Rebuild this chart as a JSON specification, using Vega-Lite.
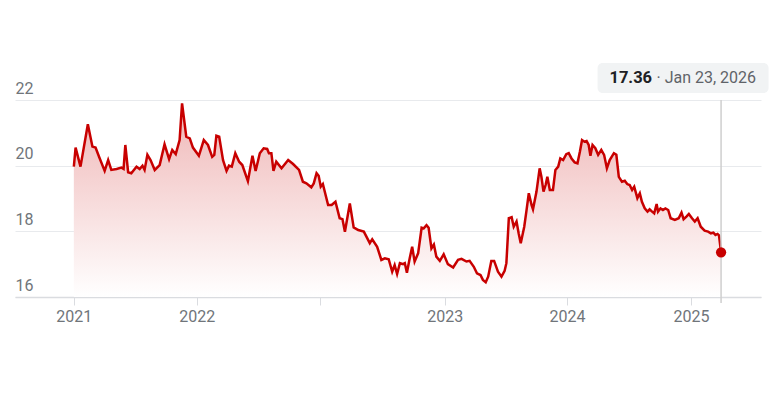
{
  "$schema": "https://vega.github.io/schema/vega-lite/v6.json",
  "width": 746,
  "height": 197,
  "autosize": "none",
  "padding": {"left": 15, "top": 100, "right": 15, "bottom": 121},
  "background": "white",
  "config": {
    "font": "Roboto",
    "view": {"stroke": null},
    "axis": {"labelFont": "Roboto", "labelFontSize": 16, "labelColor": "#70757a", "title": null}
  },
  "datasets": {
    "prices": [
      {"date": "2021-01-01", "price": 19.97}, {"date": "2021-01-06", "price": 20.55}, {"date": "2021-01-20", "price": 19.97},
      {"date": "2021-02-10", "price": 21.26}, {"date": "2021-02-23", "price": 20.58}, {"date": "2021-03-04", "price": 20.55},
      {"date": "2021-03-14", "price": 20.27}, {"date": "2021-03-30", "price": 19.84}, {"date": "2021-04-09", "price": 20.17},
      {"date": "2021-04-18", "price": 19.87}, {"date": "2021-05-03", "price": 19.9}, {"date": "2021-05-17", "price": 19.94},
      {"date": "2021-05-23", "price": 19.9}, {"date": "2021-05-28", "price": 20.63}, {"date": "2021-06-05", "price": 19.8},
      {"date": "2021-06-14", "price": 19.77}, {"date": "2021-06-29", "price": 19.97}, {"date": "2021-07-08", "price": 19.9},
      {"date": "2021-07-16", "price": 20.0}, {"date": "2021-07-22", "price": 19.87}, {"date": "2021-07-30", "price": 20.33},
      {"date": "2021-08-08", "price": 20.17}, {"date": "2021-08-20", "price": 19.87}, {"date": "2021-09-03", "price": 20.02},
      {"date": "2021-09-17", "price": 20.65}, {"date": "2021-09-30", "price": 20.2}, {"date": "2021-10-09", "price": 20.48},
      {"date": "2021-10-19", "price": 20.35}, {"date": "2021-10-30", "price": 20.78}, {"date": "2021-11-06", "price": 21.9},
      {"date": "2021-11-18", "price": 20.88}, {"date": "2021-11-28", "price": 20.83}, {"date": "2021-12-07", "price": 20.55},
      {"date": "2021-12-24", "price": 20.3},
      {"date": "2022-01-07", "price": 20.78}, {"date": "2022-01-19", "price": 20.63}, {"date": "2022-01-31", "price": 20.27},
      {"date": "2022-02-06", "price": 20.33}, {"date": "2022-02-12", "price": 20.91}, {"date": "2022-02-20", "price": 20.88},
      {"date": "2022-03-03", "price": 20.17}, {"date": "2022-03-13", "price": 19.84}, {"date": "2022-03-20", "price": 20.0},
      {"date": "2022-03-28", "price": 19.97}, {"date": "2022-04-07", "price": 20.38}, {"date": "2022-04-18", "price": 20.12},
      {"date": "2022-04-27", "price": 20.02}, {"date": "2022-05-13", "price": 19.53}, {"date": "2022-05-26", "price": 20.3},
      {"date": "2022-06-04", "price": 19.84}, {"date": "2022-06-16", "price": 20.38}, {"date": "2022-06-27", "price": 20.53},
      {"date": "2022-07-07", "price": 20.51}, {"date": "2022-07-12", "price": 20.38}, {"date": "2022-07-19", "price": 20.38},
      {"date": "2022-07-25", "price": 19.84}, {"date": "2022-08-02", "price": 20.12}, {"date": "2022-08-17", "price": 19.92},
      {"date": "2022-09-05", "price": 20.17}, {"date": "2022-09-19", "price": 20.05}, {"date": "2022-10-06", "price": 19.87},
      {"date": "2022-10-17", "price": 19.51}, {"date": "2022-10-27", "price": 19.46}, {"date": "2022-11-10", "price": 19.34},
      {"date": "2022-11-17", "price": 19.46}, {"date": "2022-11-25", "price": 19.77}, {"date": "2022-12-01", "price": 19.69},
      {"date": "2022-12-07", "price": 19.36}, {"date": "2022-12-13", "price": 19.44}, {"date": "2022-12-28", "price": 18.8},
      {"date": "2023-01-07", "price": 18.8}, {"date": "2023-01-18", "price": 18.9}, {"date": "2023-01-30", "price": 18.4},
      {"date": "2023-02-07", "price": 18.37}, {"date": "2023-02-14", "price": 17.99}, {"date": "2023-02-28", "price": 18.85},
      {"date": "2023-03-11", "price": 18.12}, {"date": "2023-03-24", "price": 18.04}, {"date": "2023-04-09", "price": 17.99},
      {"date": "2023-04-26", "price": 17.64}, {"date": "2023-05-03", "price": 17.76}, {"date": "2023-05-17", "price": 17.53},
      {"date": "2023-05-29", "price": 17.13}, {"date": "2023-06-08", "price": 17.18}, {"date": "2023-06-19", "price": 17.15},
      {"date": "2023-06-29", "price": 16.77}, {"date": "2023-07-06", "price": 16.97}, {"date": "2023-07-13", "price": 16.7},
      {"date": "2023-07-21", "price": 17.03}, {"date": "2023-07-30", "price": 17.0}, {"date": "2023-08-04", "price": 17.03},
      {"date": "2023-08-10", "price": 16.74}, {"date": "2023-08-18", "price": 17.18}, {"date": "2023-08-25", "price": 17.53},
      {"date": "2023-09-01", "price": 17.08}, {"date": "2023-09-11", "price": 17.33}, {"date": "2023-09-21", "price": 18.11},
      {"date": "2023-09-27", "price": 18.09}, {"date": "2023-10-05", "price": 18.19}, {"date": "2023-10-11", "price": 18.11},
      {"date": "2023-10-19", "price": 17.48}, {"date": "2023-10-26", "price": 17.6}, {"date": "2023-11-02", "price": 17.23},
      {"date": "2023-11-12", "price": 17.1}, {"date": "2023-11-23", "price": 17.3}, {"date": "2023-12-05", "price": 17.0},
      {"date": "2023-12-20", "price": 16.9},
      {"date": "2024-01-03", "price": 17.13}, {"date": "2024-01-13", "price": 17.16}, {"date": "2024-01-27", "price": 17.08},
      {"date": "2024-02-05", "price": 17.1}, {"date": "2024-02-17", "price": 16.92}, {"date": "2024-02-26", "price": 16.72},
      {"date": "2024-03-07", "price": 16.67}, {"date": "2024-03-14", "price": 16.52}, {"date": "2024-03-22", "price": 16.45},
      {"date": "2024-03-29", "price": 16.62}, {"date": "2024-04-07", "price": 17.1}, {"date": "2024-04-15", "price": 17.1},
      {"date": "2024-04-26", "price": 16.77}, {"date": "2024-05-06", "price": 16.62}, {"date": "2024-05-15", "price": 16.8},
      {"date": "2024-05-20", "price": 17.03}, {"date": "2024-05-27", "price": 18.4}, {"date": "2024-06-04", "price": 18.43},
      {"date": "2024-06-10", "price": 18.14}, {"date": "2024-06-18", "price": 18.3}, {"date": "2024-06-24", "price": 17.94},
      {"date": "2024-06-30", "price": 17.64}, {"date": "2024-07-10", "price": 18.14}, {"date": "2024-07-16", "price": 18.6},
      {"date": "2024-07-23", "price": 19.16}, {"date": "2024-07-31", "price": 18.8}, {"date": "2024-08-04", "price": 18.67},
      {"date": "2024-08-14", "price": 19.21}, {"date": "2024-08-23", "price": 19.92}, {"date": "2024-08-28", "price": 19.66},
      {"date": "2024-09-03", "price": 19.21}, {"date": "2024-09-09", "price": 19.41}, {"date": "2024-09-14", "price": 19.66},
      {"date": "2024-09-21", "price": 19.26}, {"date": "2024-09-30", "price": 19.26}, {"date": "2024-10-07", "price": 19.87},
      {"date": "2024-10-15", "price": 19.97}, {"date": "2024-10-21", "price": 20.22}, {"date": "2024-10-29", "price": 20.17},
      {"date": "2024-11-07", "price": 20.35}, {"date": "2024-11-14", "price": 20.38}, {"date": "2024-11-22", "price": 20.22},
      {"date": "2024-12-01", "price": 20.1}, {"date": "2024-12-09", "price": 20.07}, {"date": "2024-12-16", "price": 20.43},
      {"date": "2024-12-22", "price": 20.78}, {"date": "2024-12-29", "price": 20.73},
      {"date": "2025-01-04", "price": 20.75}, {"date": "2025-01-10", "price": 20.63}, {"date": "2025-01-15", "price": 20.3},
      {"date": "2025-01-21", "price": 20.63}, {"date": "2025-01-29", "price": 20.53}, {"date": "2025-02-06", "price": 20.33},
      {"date": "2025-02-15", "price": 20.48}, {"date": "2025-02-23", "price": 20.33}, {"date": "2025-03-03", "price": 19.92},
      {"date": "2025-03-11", "price": 20.17}, {"date": "2025-03-23", "price": 20.38}, {"date": "2025-03-30", "price": 20.33},
      {"date": "2025-04-06", "price": 19.66}, {"date": "2025-04-15", "price": 19.51}, {"date": "2025-04-23", "price": 19.54},
      {"date": "2025-04-30", "price": 19.44}, {"date": "2025-05-07", "price": 19.41}, {"date": "2025-05-14", "price": 19.26},
      {"date": "2025-05-20", "price": 19.36}, {"date": "2025-05-29", "price": 19.01}, {"date": "2025-06-05", "price": 19.16},
      {"date": "2025-06-11", "price": 18.9}, {"date": "2025-06-19", "price": 18.7}, {"date": "2025-06-27", "price": 18.6},
      {"date": "2025-07-03", "price": 18.67}, {"date": "2025-07-10", "price": 18.6}, {"date": "2025-07-16", "price": 18.55},
      {"date": "2025-07-23", "price": 18.83}, {"date": "2025-07-27", "price": 18.6}, {"date": "2025-08-03", "price": 18.7},
      {"date": "2025-08-10", "price": 18.65}, {"date": "2025-08-17", "price": 18.7}, {"date": "2025-08-25", "price": 18.65},
      {"date": "2025-09-01", "price": 18.4}, {"date": "2025-09-13", "price": 18.35}, {"date": "2025-09-24", "price": 18.4},
      {"date": "2025-10-02", "price": 18.57}, {"date": "2025-10-08", "price": 18.37}, {"date": "2025-10-16", "price": 18.45},
      {"date": "2025-10-23", "price": 18.53}, {"date": "2025-11-01", "price": 18.4}, {"date": "2025-11-09", "price": 18.3},
      {"date": "2025-11-17", "price": 18.4}, {"date": "2025-11-26", "price": 18.14}, {"date": "2025-12-07", "price": 18.02},
      {"date": "2025-12-17", "price": 17.99}, {"date": "2025-12-25", "price": 17.94},
      {"date": "2026-01-01", "price": 17.96}, {"date": "2026-01-07", "price": 17.89}, {"date": "2026-01-13", "price": 17.92},
      {"date": "2026-01-17", "price": 17.88}, {"date": "2026-01-23", "price": 17.36}
    ],
    "latest": [{"date": "2026-01-23", "price": 17.36}]
  },
  "encoding": {
    "x": {
      "field": "date",
      "type": "temporal",
      "scale": {"domain": [{"year": 2020, "month": 7, "date": 17}, {"year": 2026, "month": 5, "date": 17}]},
      "axis": {
        "values": [
          {"year": 2021, "month": 1, "date": 1},
          {"year": 2021, "month": 12, "date": 18},
          {"year": 2022, "month": 12, "date": 5},
          {"year": 2023, "month": 11, "date": 26},
          {"year": 2024, "month": 11, "date": 9},
          {"year": 2025, "month": 10, "date": 29}
        ],
        "labelExpr": "year(datum.value) == 2021 ? (month(datum.value) < 6 ? '2021' : '2022') : year(datum.value) == 2022 ? '' : timeFormat(datum.value, '%Y')",
        "grid": false,
        "domainColor": "#dadce0",
        "domainWidth": 1.5,
        "tickColor": "#dadce0",
        "tickSize": 8,
        "labelPadding": 3,
        "labelFlush": false,
        "labelOverlap": false
      }
    }
  },
  "layer": [
    {
      "data": {"name": "prices"},
      "mark": {
        "type": "area",
        "color": {
          "gradient": "linear",
          "x1": 1, "y1": 1, "x2": 1, "y2": 0,
          "stops": [{"offset": 0, "color": "#ffffff"}, {"offset": 1, "color": "#efb6b6"}]
        }
      },
      "encoding": {
        "y": {
          "field": "price",
          "type": "quantitative",
          "scale": {"domain": [16, 22], "nice": false, "zero": false},
          "axis": {
            "values": [16, 18, 20, 22],
            "domain": false,
            "ticks": false,
            "tickSize": 0,
            "labelAlign": "left",
            "labelBaseline": "bottom",
            "labelPadding": 0,
            "labelOffset": -4,
            "labelOverlap": false,
            "gridColor": "#e8eaed"
          }
        },
        "y2": {"datum": 16}
      }
    },
    {
      "data": {"name": "prices"},
      "mark": {"type": "line", "color": "#c80000", "strokeWidth": 2.5},
      "encoding": {"y": {"field": "price", "type": "quantitative"}}
    },
    {
      "data": {"name": "latest"},
      "mark": {"type": "rule", "color": "#cfcfcf", "strokeWidth": 1.5, "y2Offset": 6},
      "encoding": {"y": {"datum": 22, "type": "quantitative"}, "y2": {"datum": 16}}
    },
    {
      "data": {"name": "latest"},
      "mark": {"type": "circle", "color": "#c80000", "size": 105, "opacity": 1},
      "encoding": {"y": {"field": "price", "type": "quantitative"}}
    },
    {
      "data": {"name": "latest"},
      "mark": {"type": "rect", "width": 171, "height": 30, "cornerRadius": 5, "color": "#f1f3f4", "xOffset": -38, "yOffset": -22},
      "encoding": {"y": {"datum": 22, "type": "quantitative"}}
    },
    {
      "data": {"name": "latest"},
      "mark": {"type": "text", "align": "right", "baseline": "middle", "dx": -69, "dy": -22, "fontSize": 16.5, "fontWeight": "bold", "color": "#202124"},
      "encoding": {
        "y": {"datum": 22, "type": "quantitative"},
        "text": {"field": "price", "type": "quantitative", "format": ".2f"}
      }
    },
    {
      "data": {"name": "latest"},
      "mark": {"type": "text", "align": "right", "baseline": "middle", "dx": 35, "dy": -22, "fontSize": 16, "color": "#5f6368"},
      "encoding": {
        "y": {"datum": 22, "type": "quantitative"},
        "text": {"field": "date", "type": "temporal", "timeUnit": "utcyearmonthdate", "format": "· %b %d, %Y"}
      }
    }
  ]
}
